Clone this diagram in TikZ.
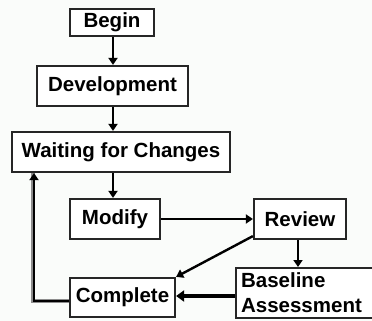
\documentclass[tikz,border=0pt]{standalone}
\usepackage{fontspec}
\setmainfont{Liberation Sans}
\usetikzlibrary{arrows.meta}
\definecolor{paper}{HTML}{FAFCFA}
\definecolor{edge}{HTML}{262626}
\begin{document}
\begin{tikzpicture}[x=1pt,y=-1pt,
  box/.style={draw=edge,line width=2.2pt,fill=white,inner sep=0pt,
    font=\fontsize{20.5}{24}\selectfont\bfseries},
  flow/.style={draw=black,line width=2.4pt,-{Triangle[width=9pt,length=7pt]}},
  heavy/.style={draw=black,line width=4pt,-{Triangle[width=11pt,length=8pt]}}]
\fill[paper] (0,0) rectangle (372,321);
\useasboundingbox (0,0) rectangle (372,321);

\node[box,minimum width=84pt,minimum height=27pt] (begin) at (112,22.5) {Begin};
\node[box,minimum width=151pt,minimum height=40pt] (dev) at (112.5,86) {Development};
\node[box,minimum width=218pt,minimum height=40pt] (wait) at (121,152) {Waiting for Changes};
\node[box,minimum width=90pt,minimum height=40pt] (mod) at (115,219) {Modify};
\node[box,minimum width=92pt,minimum height=40pt] (rev) at (300,219) {Review};
\node[box,minimum width=105pt,minimum height=39pt] (comp) at (122.5,297.5) {Complete};
\node[box,minimum width=150pt,minimum height=50pt,anchor=north west,
  align=left,text width=140pt,font=\fontsize{20.5}{25}\selectfont\bfseries] (base) at (235,267)
  {Baseline\\Assessment};

\draw[flow] (begin.south -| 113,0) -- (dev.north -| 113,0);
\draw[flow] (dev.south -| 113,0) -- (wait.north -| 113,0);
\draw[flow] (wait.south -| 113,0) -- (mod.north -| 113,0);
\draw[flow] (mod.east) -- (rev.west);
\draw[flow] (rev.south -| 298,0) -- (base.north -| 298,0);
\draw[flow] (rev.south west) ++(0,-4) coordinate (rd) (rd) -- (comp.north east);
\draw[heavy] (base.west |- 0,296) -- (comp.east |- 0,296);
\draw[black!45,line width=3.5pt] (comp.west |- 0,301) -| (wait.south -| 33,0);
\draw[flow,line width=1.8pt] (comp.west |- 0,301) -| (wait.south -| 34,0);
\end{tikzpicture}
\end{document}
